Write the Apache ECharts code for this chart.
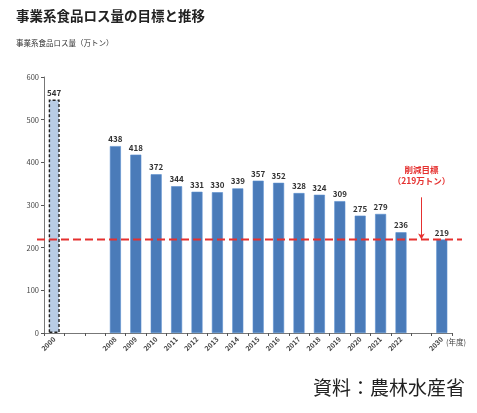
<!DOCTYPE html>
<html><head><meta charset="utf-8">
<script src="https://cdn.jsdelivr.net/npm/echarts@6/dist/echarts.min.js"></script>
<style>html,body{margin:0;padding:0;background:#fff}#c{width:477px;height:413px}</style>
</head><body><div id="c"></div>
<script>
var categories = ['2000', '', ' ', '2008', '2009', '2010', '2011', '2012', '2013', '2014', '2015', '2016', '2017', '2018', '2019', '2020', '2021', '2022', '  ', '2030'];
var lossValues = [547, null, null, 438, 418, 372, 344, 331, 330, 339, 357, 352, 328, 324, 309, 275, 279, 236, null, 219];
var yTicks = [0, 100, 200, 300, 400, 500, 600];
var targetValue = 219;
var targetLabel = ['削減目標', '（219万トン）'];
var arrowTopValue = 318;
var arrowCategory = '  ';

var FONT = '"Noto Sans CJK JP", "Noto Sans", sans-serif';
var chart = echarts.init(document.getElementById('c'), null, {renderer: 'canvas'});

var barData = lossValues.map(function (v, i) {
  if (i === 0) {
    return {value: v, itemStyle: {color: '#b8cce4', borderColor: '#222', borderWidth: 1.4, borderType: [3, 2]}};
  }
  return v;
});

var option = {
  backgroundColor: '#fff',
  animation: false,
  textStyle: {fontFamily: FONT},
  graphic: [
    {type: 'text', left: 16, top: 9, style: {text: '事業系食品ロス量の目標と推移', font: 'bold 13.5px ' + FONT, fill: '#222'}},
    {type: 'text', left: 16, top: 39, style: {text: '事業系食品ロス量（万トン）', font: '7.5px ' + FONT, fill: '#333'}},
    {type: 'text', left: 446, top: 338, style: {text: '(年度)', font: '7.5px ' + FONT, fill: '#444'}},
    {type: 'text', right: 12, top: 378, style: {text: '資料：農林水産省', font: '19px ' + FONT, fill: '#222'}}
  ],
  grid: {left: 44, right: 25, top: 77, bottom: 80, containLabel: false},
  xAxis: {
    type: 'category',
    data: categories,
    axisLine: {lineStyle: {color: '#777', width: 1}},
    axisTick: {show: true, length: 3, lineStyle: {color: '#555'}},
    axisLabel: {rotate: 45, fontSize: 7, color: '#444', margin: 5, interval: 0, fontWeight: 'bold'}
  },
  yAxis: {
    type: 'value',
    min: yTicks[0], max: yTicks[yTicks.length - 1], interval: 100,
    axisLine: {show: true, lineStyle: {color: '#777'}},
    axisTick: {show: true, length: 3, lineStyle: {color: '#555'}},
    splitLine: {show: false},
    axisLabel: {fontSize: 7.5, color: '#444', margin: 5}
  },
  series: [
    {
      type: 'bar',
      data: barData,
      barWidth: 11,
      itemStyle: {color: '#4a7bb9', borderColor: '#5b8fcf', borderWidth: 0.6},
      label: {show: true, position: 'top', distance: 3, fontSize: 8, fontWeight: 'bold', color: '#333'},
      markLine: {
        silent: true,
        symbol: ['none', 'arrow'],
        symbolSize: [5, 6],
        lineStyle: {color: '#e5302f', width: 1, type: 'solid'},
        label: {show: false},
        data: [[{coord: [arrowCategory, arrowTopValue]}, {coord: [arrowCategory, targetValue]}]]
      },
      markPoint: {
        silent: true,
        symbolSize: 0,
        data: [{coord: [arrowCategory, 370], value: 0}],
        label: {
          show: true, position: 'inside',
          formatter: targetLabel.join('\n'),
          color: '#e5302f', fontSize: 8.5, fontWeight: 'bold', lineHeight: 11, align: 'center'
        }
      }
    }
  ]
};
chart.setOption(option);

var yPix = chart.convertToPixel({yAxisIndex: 0}, targetValue);
chart.setOption({
  graphic: option.graphic.concat([
    {type: 'line', z: 10, shape: {x1: 37, y1: yPix, x2: 462, y2: yPix},
     style: {stroke: '#e5302f', lineWidth: 2, lineDash: [8, 4]}}
  ])
});
</script></body></html>
